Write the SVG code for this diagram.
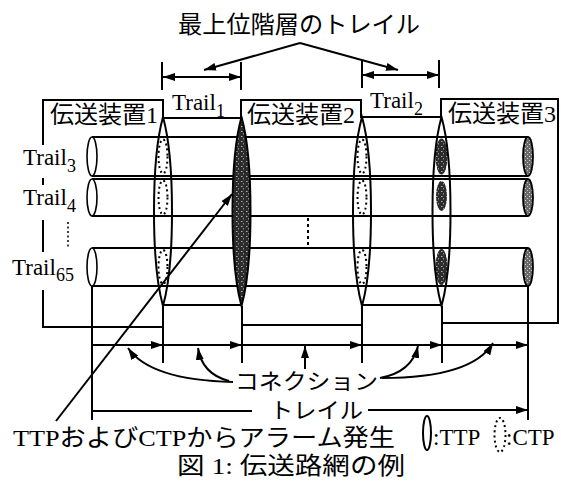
<svg xmlns="http://www.w3.org/2000/svg" width="561" height="481" viewBox="0 0 561 481">
<defs>
<style>
.ln{stroke:#000;stroke-width:2;fill:none}
.ar{stroke:#000;stroke-width:2;fill:none;marker-end:url(#ah)}
.t{font-family:"Liberation Serif","Noto Sans CJK JP",serif;fill:#000}
.j{font-family:"Noto Sans CJK JP","Liberation Serif",sans-serif;fill:#000}
.dot{stroke:#000;stroke-width:2;fill:none;stroke-dasharray:2 3}
.lens{stroke:#000;stroke-width:2;fill:none}
.lend{fill:#fff;stroke:#000;stroke-width:1.6}
.rend{fill:url(#light);stroke:#000;stroke-width:1.8}
</style>
<pattern id="dark" width="5" height="5" patternUnits="userSpaceOnUse">
<rect width="5" height="5" fill="#2b2b2b"/>
<rect x="1" y="1" width="1.5" height="1" fill="#b0b0b0"/>
<rect x="3" y="3" width="1" height="1.5" fill="#8a8a8a"/>
</pattern>
<pattern id="light" width="4" height="4" patternUnits="userSpaceOnUse">
<rect width="4" height="4" fill="#6a6a6a"/>
<rect x="1" y="0" width="1" height="1" fill="#d8d8d8"/>
<rect x="3" y="2" width="1" height="1" fill="#c8c8c8"/>
</pattern>
<marker id="ah" viewBox="0 0 12 8" refX="12" refY="4" markerWidth="12" markerHeight="8" markerUnits="userSpaceOnUse" orient="auto-start-reverse">
<path d="M0,0 L12,4 L0,8 Z" fill="#000"/>
</marker>
</defs>
<rect width="561" height="481" fill="#fff"/>

<!-- title -->
<g id="title">
<text class="j" x="178" y="33" font-size="24" textLength="242" lengthAdjust="spacingAndGlyphs">最上位階層のトレイル</text>
</g>

<!-- equipment boxes / frame -->
<g id="box1">
<path class="ln" d="M43,145 V100 H163 V118 M43,178 V185 M43,220 V252 M43,290 V327 H163"/>
<text class="t" x="50" y="123" font-size="24">伝送装置1</text>
</g>
<g id="box2">
<path class="ln" d="M241,118 V100 H361 V118 M242,325 H362"/>
<text class="t" x="247" y="123" font-size="24">伝送装置2</text>
</g>
<g id="box3">
<path class="ln" d="M441,118 V99 H558 V323 H442"/>
<text class="t" x="448" y="122" font-size="24">伝送装置3</text>
</g>
<g id="band1">
<path class="ln" d="M163,118 H241 M163,305 H242"/>
<text class="t" x="172" y="110" font-size="23">Trail<tspan font-size="18" dy="7">1</tspan></text>
</g>
<g id="band2">
<path class="ln" d="M361,117 H441 M362,305 H442"/>
<text class="t" x="370" y="108" font-size="23">Trail<tspan font-size="18" dy="7">2</tspan></text>
</g>

<!-- trail cylinders -->
<g id="trail3">
<path class="ln" d="M92,137 H528 M92,176 H528"/>
<ellipse class="lend" cx="92" cy="156.5" rx="5" ry="19.5"/>
<ellipse class="rend" cx="528" cy="156.5" rx="5" ry="19.5"/>
<text class="t" x="23" y="165" font-size="23">Trail<tspan font-size="18" dy="7">3</tspan></text>
</g>
<g id="trail4">
<path class="ln" d="M92,179 H528 M92,216 H528"/>
<ellipse class="lend" cx="92" cy="197.5" rx="5" ry="18.5"/>
<ellipse class="rend" cx="528" cy="197.5" rx="5" ry="18.5"/>
<text class="t" x="23" y="205" font-size="23">Trail<tspan font-size="18" dy="7">4</tspan></text>
</g>
<g id="trail65">
<path class="ln" d="M92,248 H528 M92,286 H528"/>
<ellipse class="lend" cx="92" cy="267" rx="5" ry="19"/>
<ellipse class="rend" cx="528" cy="267" rx="5" ry="19"/>
<text class="t" x="12" y="275" font-size="23">Trail<tspan font-size="18" dy="6">65</tspan></text>
</g>
<g id="omit">
<path d="M68,222 V248" stroke="#000" stroke-width="1.5" stroke-dasharray="2 2.5"/>
<path d="M308,218 V246" stroke="#000" stroke-width="2" stroke-dasharray="3 3"/>
</g>

<!-- termination points -->
<g id="tp1">
<path class="lens" d="M163,117 C175,160 175,263 163,306 C151,263 151,160 163,117 Z"/>
<ellipse class="dot" cx="163" cy="156.5" rx="4.5" ry="17"/>
<ellipse class="dot" cx="163" cy="197.5" rx="4.5" ry="17"/>
<ellipse class="dot" cx="163" cy="267" rx="4.5" ry="17"/>
</g>
<g id="tp2">
<path class="lens" style="fill:url(#dark)" d="M241.5,117 C253.5,160 253.5,263 241.5,306 C229.5,263 229.5,160 241.5,117 Z"/>
</g>
<g id="tp3">
<path class="lens" d="M362,117 C374,160 374,263 362,306 C350,263 350,160 362,117 Z"/>
<ellipse class="dot" cx="362" cy="156.5" rx="4.5" ry="17"/>
<ellipse class="dot" cx="362" cy="197.5" rx="4.5" ry="17"/>
<ellipse class="dot" cx="362" cy="267" rx="4.5" ry="17"/>
</g>
<g id="tp4">
<ellipse cx="441.5" cy="156.5" rx="6" ry="18" fill="url(#dark)"/>
<ellipse cx="441.5" cy="196" rx="5.5" ry="15" fill="url(#dark)"/>
<ellipse cx="441.5" cy="267" rx="6" ry="18" fill="url(#dark)"/>
<path class="lens" d="M441.5,117 C453.5,160 453.5,263 441.5,306 C429.5,263 429.5,160 441.5,117 Z"/>
</g>

<!-- labels -->
<g id="labels">
<text class="j" x="235" y="389" font-size="22" textLength="143" lengthAdjust="spacingAndGlyphs">コネクション</text>
<text class="j" x="270" y="418" font-size="22" textLength="93" lengthAdjust="spacingAndGlyphs">トレイル</text>
<text class="t" x="13" y="446" font-size="24" textLength="382" lengthAdjust="spacingAndGlyphs">TTPおよびCTPからアラーム発生</text>
<text class="t" x="177" y="474" font-size="24" textLength="228" lengthAdjust="spacingAndGlyphs">図 1: 伝送路網の例</text>
</g>
<g id="legend">
<ellipse cx="427" cy="433" rx="4" ry="17" fill="none" stroke="#000" stroke-width="2"/>
<text class="t" x="433" y="445" font-size="23">:TTP</text>
<ellipse class="dot" cx="500" cy="435" rx="5.5" ry="17"/>
<text class="t" x="506" y="445" font-size="23">:CTP</text>
</g>

<!-- connectors -->
<g id="connectors">
<path class="ln" d="M162,62 V90 M241,62 V90 M362,60 V88 M439,60 V88"/>
<path class="ln" d="M163,77 H241" marker-start="url(#ah)" marker-end="url(#ah)"/>
<path class="ln" d="M362,75 H439" marker-start="url(#ah)" marker-end="url(#ah)"/>
<path class="ar" d="M300,43 L204,70"/>
<path class="ar" d="M300,43 L398,70"/>
<path class="ln" d="M163,306 V363 M242,306 V363 M362,306 V363 M442,306 V363 M92,286 V420 M528,286 V420"/>
<path class="ar" d="M92,345 H163"/>
<path class="ar" d="M163,345 H242"/>
<path class="ar" d="M242,345 H362"/>
<path class="ar" d="M362,345 H442"/>
<path class="ar" d="M442,345 H528"/>
<path class="ln" d="M92,411 H252"/>
<path class="ar" d="M368,410 H528"/>
<path class="ar" d="M233,382 Q150,380 128,348"/>
<path class="ar" d="M229,381 Q202,374 198,348"/>
<path class="ar" d="M305,369 V346"/>
<path class="ar" d="M380,378 Q412,372 418,346"/>
<path class="ar" d="M382,378 Q472,378 493,343"/>
<path class="ar" d="M56,421 L232,194"/>
</g>
</svg>
